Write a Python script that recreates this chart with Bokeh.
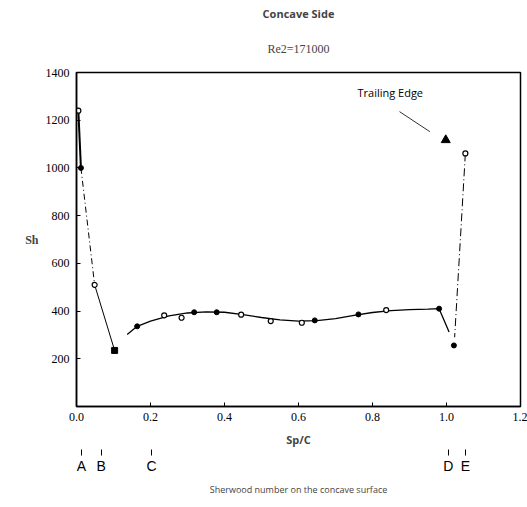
from bokeh.plotting import figure
from bokeh.models import Label, Range1d, FixedTicker, LinearAxis, Title, Axis
from bokeh.embed import file_html
from bokeh.resources import INLINE

# ---- data ----
x_open = [0.005, 0.049, 0.237, 0.284, 0.445, 0.525, 0.609, 0.837, 1.051]
y_open = [1240, 510, 382, 372, 385, 358, 351, 404, 1061]
x_filled = [0.012, 0.164, 0.318, 0.379, 0.644, 0.762, 0.980, 1.020]
y_filled = [1000, 336, 395, 395, 361, 386, 410, 256]
x_square = [0.103]
y_square = [235]
x_tri = [0.998]
y_tri = [1117]

# leading edge connecting line
le_solid1_x = [0.005, 0.012]
le_solid1_y = [1240, 1000]
le_dash_x = [0.012, 0.049]
le_dash_y = [1000, 510]
le_solid2_x = [0.049, 0.103]
le_solid2_y = [510, 235]

# fitted curve along the surface
curve_x = [0.137, 0.164, 0.2, 0.25, 0.3, 0.35, 0.4, 0.45, 0.5, 0.55, 0.6,
           0.65, 0.7, 0.75, 0.8, 0.85, 0.9, 0.95, 0.98, 1.007]
curve_y = [302, 336, 358, 380, 392, 397, 395, 385, 373, 363, 358,
           360, 368, 382, 394, 402, 406, 408, 410, 312]

# trailing edge line
te_x = [1.051, 1.022]
te_y = [1061, 290]

x_ticks = [0.0, 0.2, 0.4, 0.6, 0.8, 1.0, 1.2]
x_tick_labels = ["0.0", "0.2", "0.4", "0.6", "0.8", "1.0", "1.2"]
y_ticks = [200, 400, 600, 800, 1000, 1200, 1400]

letters = ["A", "B", "C", "D", "E"]
letter_x = [0.013, 0.067, 0.203, 1.005, 1.051]

p = figure(width=527, height=507, output_backend="svg", toolbar_location=None,
           x_range=Range1d(0, 1.2), y_range=Range1d(0, 1400),
           min_border_left=76, min_border_right=7, min_border_top=71,
           min_border_bottom=101)
p.grid.visible = False
p.outline_line_color = "black"
p.outline_line_width = 1.5
p.background_fill_color = "white"
p.border_fill_color = "white"

# titles (added Title sits nearest to the frame)
p.title.text = "Concave Side"
p.title.align = "center"
p.title.text_font = "Open Sans"
p.title.text_font_style = "bold"
p.title.text_font_size = "11px"
p.title.standoff = 6
p.add_layout(Title(text="Re2=171000", align="center", text_font="Liberation Serif",
                   text_font_style="normal", text_font_size="12px", standoff=33),
             "above")

for ax in (p.xaxis[0], p.yaxis[0]):
    ax.axis_line_width = 1.5
    ax.axis_line_color = "black"
    ax.major_tick_in = 4
    ax.major_tick_out = 0
    ax.minor_tick_in = 0
    ax.minor_tick_out = 0
    ax.major_label_text_font = "Liberation Serif"
    ax.major_label_text_font_size = "12px"
    ax.major_label_text_color = "black"

p.xaxis.ticker = FixedTicker(ticks=x_ticks)
p.xaxis.major_label_overrides = {t: l for t, l in zip(x_ticks, x_tick_labels)}
p.xaxis.major_label_standoff = 6
p.xaxis.axis_label = "Sp/C"
p.xaxis.axis_label_standoff = 8
p.xaxis.axis_label_text_font = "Open Sans"
p.xaxis.axis_label_text_font_style = "bold"
p.xaxis.axis_label_text_font_size = "11px"

p.yaxis.ticker = FixedTicker(ticks=y_ticks)
p.yaxis.major_label_standoff = 7
p.yaxis.axis_label = "Sh"
p.yaxis.axis_label_standoff = 4
p.yaxis.axis_label_text_font = "Liberation Serif"
p.yaxis.axis_label_text_font_style = "bold"
p.yaxis.axis_label_text_font_size = "12px"
if hasattr(Axis, "axis_label_orientation"):
    p.yaxis.axis_label_orientation = "horizontal"

# axis carrying the station letters A..E
letter_axis = LinearAxis(ticker=FixedTicker(ticks=letter_x),
                         major_label_overrides={x: l for x, l in zip(letter_x, letters)},
                         axis_line_color=None, major_tick_in=0, major_tick_out=6,
                         major_tick_line_width=1, minor_tick_in=0, minor_tick_out=0,
                         major_label_standoff=2,
                         major_label_text_font="Liberation Sans",
                         major_label_text_font_size="14px",
                         major_label_text_color="black")
p.add_layout(letter_axis, "below")

# caption
p.add_layout(Title(text="Sherwood number on the concave surface", align="center",
                   text_font="Open Sans", text_font_style="normal",
                   text_font_size="9px", standoff=8), "below")

# lines
p.line(le_solid1_x, le_solid1_y, line_color="black", line_width=2)
p.line(le_dash_x, le_dash_y, line_color="black", line_width=1, line_dash="6 3 1 3")
p.line(le_solid2_x, le_solid2_y, line_color="black", line_width=1)
p.line(curve_x, curve_y, line_color="black", line_width=1.3)
p.line(te_x, te_y, line_color="black", line_width=1, line_dash="8 3 1 3")

# markers
p.scatter(x_open, y_open, marker="circle", size=5, fill_color="white",
          line_color="black", line_width=1.2)
p.scatter(x_filled, y_filled, marker="circle", size=5, fill_color="black",
          line_color="black")
p.scatter(x_square, y_square, marker="square", size=6, fill_color="black",
          line_color="black")
p.scatter(x_tri, y_tri, marker="triangle", size=9, fill_color="black",
          line_color="black")

# Trailing edge annotation
p.line([0.873, 0.955], [1236, 1152], line_color="black", line_width=0.8)
p.add_layout(Label(x=0.848, y=1315, text="Trailing Edge", text_align="center",
                   text_baseline="middle", text_font="Open Sans",
                   text_font_size="11px", text_color="black"))

open("out.html", "w").write(file_html(p, INLINE))
